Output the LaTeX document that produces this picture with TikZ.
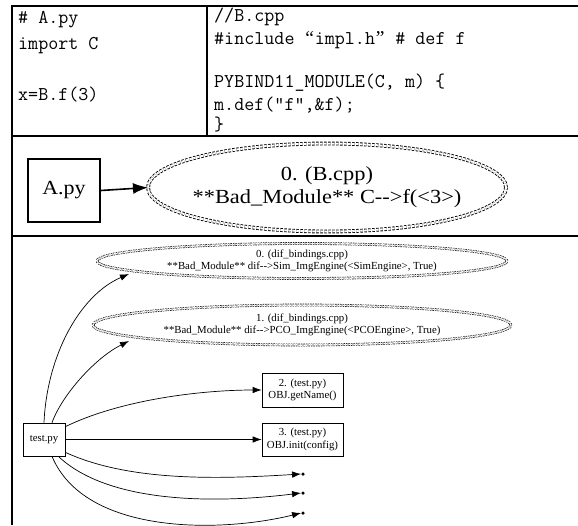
\documentclass[tikz,border=0pt]{standalone}
\usepackage{fontspec}
\usepackage{graphicx}
\setmainfont{Liberation Serif}
\usetikzlibrary{shapes.geometric,arrows.meta,calc}
\newcommand{\cq}[1]{\makebox[0.525em]{\rmfamily #1}}
\begin{document}
\begin{tikzpicture}[x=1pt,y=-1pt,
  frame/.style={line width=2pt},
  code/.style={anchor=west,inner sep=0pt,font=\ttfamily\fontsize{19.5}{21}\selectfont},
  bigbox/.style={draw,line width=1.6pt,minimum width=72pt,minimum height=63pt,inner sep=0pt,font=\fontsize{20}{22}\selectfont},
  bigell/.style={ellipse,draw,double,double distance=2pt,line width=0.9pt,dash pattern=on 2.5pt off 1.5pt,inner sep=0pt,outer sep=0pt},
  biglbl/.style={align=center,inner sep=0pt,font=\fontsize{20}{23}\selectfont},
  smell/.style={ellipse,draw,double,double distance=1.5pt,line width=0.6pt,dash pattern=on 1.5pt off 1pt,inner sep=0pt,outer sep=0pt},
  smlbl/.style={align=center,inner sep=0pt,font=\fontsize{10.8}{12}\selectfont},
  smbox/.style={draw,line width=0.7pt,inner sep=0pt,align=center,font=\fontsize{10.8}{12.5}\selectfont},
  dot/.style={circle,fill,inner sep=0pt,minimum size=3.5pt},
  bigarr/.style={-{Latex[length=15pt,width=11pt]},line width=1.6pt},
  smarr/.style={-{Latex[length=9pt,width=6.5pt]},line width=0.7pt}
]
\useasboundingbox (0,0) rectangle (578,525);
% frame
\draw[frame] (12,525) -- (12,6) -- (578,6);
\draw[frame] (207,6) -- (207,136);
\draw[frame] (12,136) -- (578,136);
\draw[frame] (12,236) -- (578,236);
% code cells
\node[code] (l1) at (18,20) {\# A.py};
\node[code] (l2) at (18,46) {import C};
\node[code] (l3) at (18,95) {x=B.f(3)};
\node[code] (r1) at (214,17) {//B.cpp};
\node[code] (r2) at (214,40) {\#include \cq{“}impl.h\cq{”} \# def f};
\node[code] (r3) at (214,83) {PYBIND11\_MODULE(C, m) \{};
\node[code] (r4) at (214,105) {m.def("f",\&f);};
\node[code] (r5) at (214,125) {\}};
% middle graph
\node[bigbox] (apy) at (64,190.5) {\scalebox{1.1}[1]{A.py}};
\node[bigell,minimum width=358pt,minimum height=88pt,
  label={[biglbl]center:\scalebox{1.12}[1]{0. (B.cpp)}\\\scalebox{1.12}[1]{**Bad\_Module** C-{}->f(<3>)}}] (bcpp) at (327,187.5) {};
\draw[bigarr] (apy.east) -- (bcpp.west);
% lower graph
\node[smell,minimum width=410pt,minimum height=35pt,
  label={[smlbl]center:0. (dif\_bindings.cpp)\\**Bad\_Module** dif-{}->Sim\_ImgEngine(<SimEngine>, True)}] (e0) at (302,261) {};
\node[smell,minimum width=418pt,minimum height=40pt,
  label={[smlbl]center:1. (dif\_bindings.cpp)\\**Bad\_Module** dif-{}->PCO\_ImgEngine(<PCOEngine>, True)}] (e1) at (302,325) {};
\node[smbox,minimum width=81pt,minimum height=34pt] (b2) at (302.5,390) {2. (test.py)\\OBJ.getName()};
\node[smbox,minimum width=81pt,minimum height=33pt] (b3) at (302.5,439.5) {3. (test.py)\\OBJ.init(config)};
\node[smbox,minimum width=42pt,minimum height=33pt] (tp) at (44,439.5) {test.py};
\node[dot] (d1) at (303,474) {};
\node[dot] (d2) at (303,493) {};
\node[dot] (d3) at (303,513) {};
\draw[smarr] (tp.north) .. controls (47,355) and (80,295) .. ($(e0.center)+(-173,13)$);
\draw[smarr] ([xshift=8pt]tp.north) .. controls (62,395) and (95,358) .. ($(e1.center)+(-173,16)$);
\draw[smarr] ([yshift=-4pt]tp.north east) .. controls (120,400) and (200,390) .. (b2.west);
\draw[smarr] (tp.east) -- (b3.west);
\draw[smarr] ([yshift=4pt]tp.south east) .. controls (130,482) and (220,479) .. (d1.west);
\draw[smarr] ([xshift=-7pt]tp.south east) .. controls (110,505) and (220,503) .. (d2.west);
\draw[smarr] ([xshift=8pt]tp.south) .. controls (85,535) and (220,533) .. (d3.west);
\end{tikzpicture}
\end{document}
